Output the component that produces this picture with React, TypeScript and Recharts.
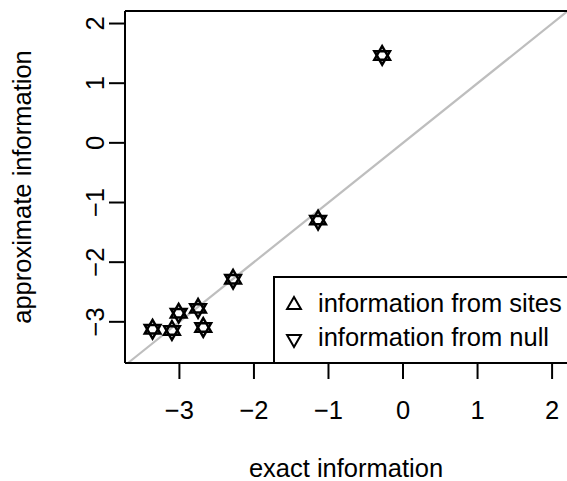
import React from "react";
import {
  ScatterChart, Scatter, XAxis, YAxis, ReferenceLine, Label,
} from "recharts";

document.body.style.margin = "0";

// exact vs approximate information
const exactSites = [-0.28, -1.14, -2.28, -2.75, -3.01, -2.68, -3.1, -3.36];
const approxSites = [1.47, -1.29, -2.28, -2.77, -2.85, -3.09, -3.14, -3.12];
const exactNull = [-0.28, -1.14, -2.28, -2.75, -3.01, -2.68, -3.1, -3.36];
const approxNull = [1.46, -1.3, -2.29, -2.78, -2.86, -3.1, -3.15, -3.13];

const xTicks = [-3, -2, -1, 0, 1, 2];
const yTicks = [-3, -2, -1, 0, 1, 2];
const xDomain = [-3.73, 2.2];
const yDomain = [-3.69, 2.21];

const FONT = "'Liberation Sans', Arial, Helvetica, sans-serif";
const FS = 25.5;

const sitesData = exactSites.map((x, i) => ({ x, y: approxSites[i] }));
const nullData = exactNull.map((x, i) => ({ x, y: approxNull[i] }));

const fmt = (v: number) => (v < 0 ? "\u2212" + Math.abs(v) : String(v));

function triPoints(cx: number, cy: number, r: number, up: boolean) {
  const h = r * 0.866;
  const s = up ? 1 : -1;
  return `${cx},${cy - s * r} ${cx - h},${cy + (s * r) / 2} ${cx + h},${cy + (s * r) / 2}`;
}

const UpTri = (props: any) => (
  <polygon points={triPoints(props.cx, props.cy, 9, true)} fill="none" stroke="#000" strokeWidth={2.5} />
);
const DownTri = (props: any) => (
  <polygon points={triPoints(props.cx, props.cy, 9, false)} fill="none" stroke="#000" strokeWidth={2.5} />
);

const YTick = (props: any) => {
  const { y, payload } = props;
  const x = 104;
  return (
    <text x={x} y={y} transform={`rotate(-90 ${x} ${y})`} textAnchor="middle"
      fill="#000" fontSize={FS} fontFamily={FONT}>
      {fmt(payload.value)}
    </text>
  );
};

export default function App() {
  return (
    <div style={{ position: "relative", width: 567, height: 481, overflow: "hidden", background: "#fff" }}>
      <ScatterChart width={567} height={481} margin={{ top: 11, right: 0, bottom: 0, left: 0 }}
        style={{ fontFamily: FONT }}>
        <XAxis type="number" dataKey="x" domain={xDomain} ticks={xTicks} allowDataOverflow
          height={118} tickSize={16} tickMargin={22} tickFormatter={fmt}
          tick={{ fill: "#000", fontSize: FS, fontFamily: FONT }}
          axisLine={{ stroke: "#000", strokeWidth: 2 }} tickLine={{ stroke: "#000", strokeWidth: 2 }}>
          <Label content={() => (
            <text x={346} y={477} textAnchor="middle" fill="#000" fontSize={FS} fontFamily={FONT}>
              exact information
            </text>
          )} />
        </XAxis>
        <YAxis type="number" dataKey="y" domain={yDomain} ticks={yTicks} allowDataOverflow
          width={125} tickSize={16} tick={<YTick />}
          axisLine={{ stroke: "#000", strokeWidth: 2 }} tickLine={{ stroke: "#000", strokeWidth: 2 }}>
          <Label content={() => (
            <text x={31} y={187} transform="rotate(-90 31 187)" textAnchor="middle"
              fill="#000" fontSize={FS} fontFamily={FONT}>
              approximate information
            </text>
          )} />
        </YAxis>
        <ReferenceLine segment={[{ x: -3.69, y: -3.69 }, { x: 2.2, y: 2.2 }]}
          stroke="#bebebe" strokeWidth={2.2} ifOverflow="visible" />
        <ReferenceLine y={yDomain[1]} stroke="#000" strokeWidth={2} ifOverflow="visible" />
        <Scatter data={sitesData} shape={<UpTri />} isAnimationActive={false} />
        <Scatter data={nullData} shape={<DownTri />} isAnimationActive={false} />
      </ScatterChart>
      <svg width={567} height={481} style={{ position: "absolute", left: 0, top: 0, pointerEvents: "none" }}>
        <rect x={274} y={277} width={320} height={86} fill="#fff" stroke="#000" strokeWidth={2} />
        <polygon points={triPoints(294, 305, 8, true)} fill="none" stroke="#000" strokeWidth={2} />
        <polygon points={triPoints(294, 339, 8, false)} fill="none" stroke="#000" strokeWidth={2} />
        <text x={318} y={312} fill="#000" fontSize={FS} fontFamily={FONT}>information from sites</text>
        <text x={318} y={346} fill="#000" fontSize={FS} fontFamily={FONT}>information from null</text>
      </svg>
    </div>
  );
}
